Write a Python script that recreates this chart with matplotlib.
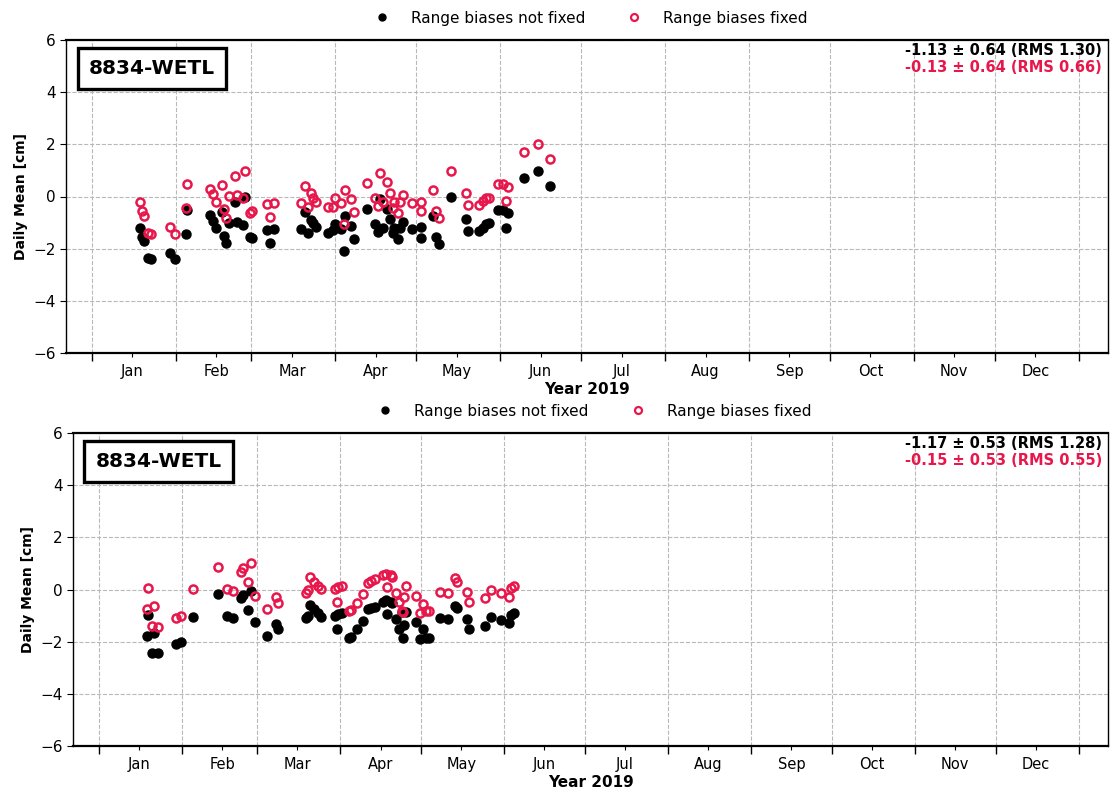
import datetime as dt
import matplotlib
matplotlib.use("Agg")
import matplotlib.pyplot as plt
import matplotlib.dates as mdates
from matplotlib.lines import Line2D

# ---------------- data (day of year 2019, daily mean in cm) ----------------
top_days = [17.7, 18.6, 19.2, 20.8, 21.9, 28.7, 30.9, 34.9, 35.2, 43.8, 44.6, 45.9,
            48.1, 48.8, 49.6, 50.6, 53.0, 53.8, 55.7, 56.7, 58.6, 59.2, 64.7, 65.9,
            67.2, 77.4, 78.9, 79.8, 81.1, 81.9, 82.8, 87.5, 89.3, 89.9, 92.1, 93.2,
            93.6, 95.8, 97.0, 101.6, 104.9, 105.9, 106.5, 107.7, 109.0, 110.2, 111.2,
            111.8, 113.3, 113.9, 115.1, 118.5, 121.7, 121.9, 126.2, 127.2, 128.3,
            133.0, 138.3, 139.1, 143.1, 144.6, 145.9, 146.8, 150.2, 152.0, 153.3,
            154.1, 159.7, 164.9, 169.6]
top_not_fixed = [-1.22, -1.56, -1.70, -2.34, -2.41, -2.15, -2.41, -1.45, -0.52, -0.71,
                 -0.93, -1.22, -0.58, -1.51, -1.79, -1.03, -0.22, -0.97, -1.09, -0.01,
                 -1.56, -1.58, -1.28, -1.79, -1.25, -1.26, -0.58, -1.39, -0.90, -1.03,
                 -1.18, -1.41, -1.28, -1.05, -1.26, -2.08, -0.75, -1.12, -1.63, -0.48,
                 -1.07, -1.37, -0.10, -1.22, -0.48, -0.87, -1.41, -1.19, -1.64, -1.22,
                 -0.97, -1.25, -1.58, -1.16, -0.75, -1.56, -1.83, -0.01, -0.87, -1.32,
                 -1.32, -1.19, -1.07, -1.03, -0.52, -0.52, -1.19, -0.62, 0.72, 0.99, 0.41]
top_fixed = [-0.22, -0.56, -0.74, -1.41, -1.44, -1.16, -1.43, -0.45, 0.48, 0.30,
             0.08, -0.22, 0.43, -0.48, -0.81, 0.01, 0.77, 0.05, -0.07, 0.99,
             -0.62, -0.57, -0.29, -0.80, -0.24, -0.26, 0.41, -0.41, 0.12, -0.07,
             -0.20, -0.41, -0.39, -0.07, -0.24, -1.07, 0.25, -0.10, -0.61, 0.53,
             -0.05, -0.36, 0.91, -0.20, 0.54, 0.15, -0.43, -0.20, -0.62, -0.20,
             0.06, -0.24, -0.56, -0.20, 0.25, -0.56, -0.84, 0.99, 0.12, -0.33,
             -0.33, -0.17, -0.07, -0.05, 0.48, 0.48, -0.17, 0.38, 1.72, 2.00, 1.43]

bot_days = [18.0, 18.5, 19.7, 20.7, 22.2, 28.8, 30.6, 35.0, 44.5, 47.7, 50.1, 52.9,
            53.9, 55.7, 56.7, 58.1, 62.7, 65.9, 66.8, 77.1, 77.8, 78.7, 80.2, 81.5,
            82.7, 88.0, 88.6, 89.1, 90.6, 93.2, 93.9, 96.1, 98.6, 100.3, 101.3, 102.9,
            105.7, 106.9, 107.5, 108.7, 109.4, 110.6, 111.8, 113.1, 113.3, 113.7,
            114.6, 118.0, 119.6, 120.9, 121.8, 123.0, 127.1, 130.2, 132.6, 133.6,
            137.0, 137.9, 143.7, 146.2, 149.7, 152.8, 153.6, 154.6]
bot_not_fixed = [-1.78, -0.98, -2.44, -1.65, -2.44, -2.09, -2.00, -1.04, -0.17, -1.00,
                 -1.08, -0.34, -0.21, -0.79, -0.05, -1.26, -1.78, -1.32, -1.53, -1.10,
                 -1.02, -0.59, -0.75, -0.91, -1.04, -1.02, -1.53, -0.95, -0.89, -1.85,
                 -1.81, -1.53, -1.21, -0.76, -0.72, -0.66, -0.47, -0.40, -0.94, -0.47,
                 -0.53, -1.13, -1.53, -0.85, -1.87, -1.36, -0.87, -1.23, -1.91, -1.53,
                 -1.87, -1.87, -1.08, -1.13, -0.63, -0.72, -1.13, -1.53, -1.40, -1.04,
                 -1.17, -1.30, -0.98, -0.89]
bot_fixed = [-0.76, 0.05, -1.39, -0.63, -1.42, -1.08, -1.00, 0.01, 0.85, 0.02,
             -0.06, 0.66, 0.81, 0.28, 1.03, -0.24, -0.76, -0.30, -0.51, -0.15,
             -0.02, 0.47, 0.30, 0.13, 0.01, 0.02, -0.47, 0.08, 0.15, -0.82,
             -0.79, -0.51, -0.18, 0.26, 0.33, 0.39, 0.56, 0.59, 0.11, 0.56,
             0.49, -0.12, -0.47, -0.82, -0.85, -0.28, 0.15, -0.24, -0.89, -0.56,
             -0.82, -0.82, -0.08, -0.12, 0.43, 0.30, -0.08, -0.47, -0.34, -0.02,
             -0.15, -0.30, 0.05, 0.13]

station = "8834-WETL"
stats_top = ["-1.13 \u00b1 0.64 (RMS 1.30)", "-0.13 \u00b1 0.64 (RMS 0.66)"]
stats_bot = ["-1.17 \u00b1 0.53 (RMS 1.28)", "-0.15 \u00b1 0.53 (RMS 0.55)"]
legend_labels = ["Range biases not fixed", "Range biases fixed"]

RED = "#e8174b"
BASE = dt.datetime(2019, 1, 1)


def to_dates(days):
    return [BASE + dt.timedelta(days=d) for d in days]


fig = plt.figure(figsize=(11.10, 7.96), dpi=100)
ax1 = fig.add_axes([66 / 1110, 1 - 353 / 796, (1108 - 66) / 1110, 313 / 796])
ax2 = fig.add_axes([73 / 1110, 1 - 746 / 796, (1108 - 73) / 1110, 313 / 796])

panels = [(ax1, top_days, top_not_fixed, top_fixed, stats_top),
          (ax2, bot_days, bot_not_fixed, bot_fixed, stats_bot)]

for ax, days, nf, fx, stats in panels:
    dates = to_dates(days)
    ax.plot(dates, nf, 'o', color='black', markersize=6.5, linestyle='none', zorder=3)
    ax.plot(dates, fx, 'o', markerfacecolor='none', markeredgecolor=RED,
            markeredgewidth=1.8, markersize=5.8, linestyle='none', zorder=4)

    ax.set_ylim(-6, 6)
    ax.set_yticks([-6, -4, -2, 0, 2, 4, 6])
    ax.set_xlim(BASE + dt.timedelta(days=-9.6), BASE + dt.timedelta(days=375.9))

    ax.xaxis.set_major_locator(mdates.MonthLocator())
    ax.xaxis.set_major_formatter(plt.NullFormatter())
    ax.xaxis.set_minor_locator(mdates.MonthLocator(bymonthday=16))
    ax.xaxis.set_minor_formatter(mdates.DateFormatter('%b'))
    ax.tick_params(axis='x', which='minor', length=3, width=0.8, labelsize=10.5, pad=5)
    ax.tick_params(axis='x', which='major', length=6, width=1)
    ax.tick_params(axis='y', labelsize=11, length=4)

    ax.grid(True, which='major', linestyle='--', color='#b8b8b8', linewidth=0.8)
    for sp in ax.spines.values():
        sp.set_linewidth(1.0)
    ax.spines['top'].set_linewidth(1.6)
    ax.spines['bottom'].set_linewidth(1.6)

    ax.set_ylabel("Daily Mean [cm]", fontsize=10, fontweight='bold')
    ax.set_xlabel("Year 2019", fontsize=11, fontweight='bold', labelpad=2)

    ax.text(0.0825, 0.908, station, transform=ax.transAxes, fontsize=14.5,
            fontweight='bold', ha='center', va='center', zorder=6,
            bbox=dict(boxstyle='square,pad=0.55', facecolor='white',
                      edgecolor='black', linewidth=2.4))
    ax.text(0.994, 0.990, stats[0], transform=ax.transAxes, fontsize=10.5,
            fontweight='bold', ha='right', va='top', color='black')
    ax.text(0.994, 0.936, stats[1], transform=ax.transAxes, fontsize=10.5,
            fontweight='bold', ha='right', va='top', color=RED)

    handles = [Line2D([], [], marker='o', color='black', linestyle='none', markersize=5),
               Line2D([], [], marker='o', markerfacecolor='none', markeredgecolor=RED,
                      markeredgewidth=1.6, linestyle='none', markersize=5)]
    ax.legend(handles, legend_labels, loc='lower center', bbox_to_anchor=(0.5, 1.016),
              ncol=2, frameon=False, fontsize=11, columnspacing=2.2,
              handletextpad=0.9, borderaxespad=0.2)

fig.savefig("out.png", dpi=100)
